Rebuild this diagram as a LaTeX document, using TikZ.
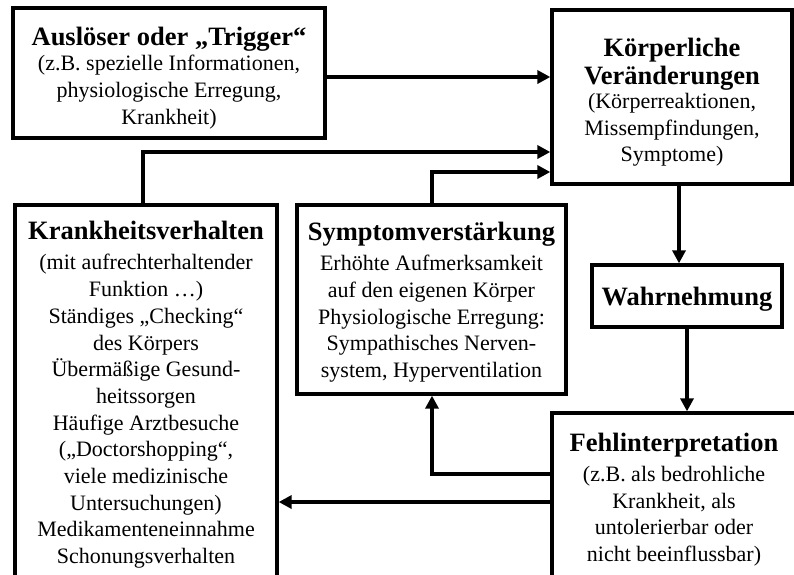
\documentclass[tikz,border=0pt]{standalone}
\usepackage{fontspec}
\setmainfont{Liberation Serif}
\usetikzlibrary{arrows.meta}
\newcommand\boxtitle[1]{{\fontsize{26.5}{26.7}\selectfont\bfseries #1}}
\newcommand\lift[1]{\rule{0pt}{#1}}
\begin{document}
\begin{tikzpicture}[x=1pt,y=-1pt,
  box/.style={draw, line width=3.3pt, rectangle, align=center, inner sep=0pt,
    font=\fontsize{22}{26.7}\selectfont},
  flow/.style={line width=3.3pt, -{Triangle[length=13pt,width=13pt]}}]
\useasboundingbox (0,0) rectangle (794,574);
\fill[white] (0,0) rectangle (794,574);

% boxes
\node[box, minimum width=312pt, minimum height=130pt] (trigger) at (169,73)
  {\lift{29pt}\boxtitle{Auslöser oder „Trigger“}\\[-1.7pt]
   (z.B. spezielle Informationen,\\ physiologische Erregung,\\ Krankheit)};
\node[box, minimum width=240pt, minimum height=174pt] (koerp) at (672,97)
  {\lift{29pt}\boxtitle{Körperliche}\\[1.3pt]\boxtitle{Veränderungen}\\[-2.7pt]
   (Körperreaktionen,\\ Missempfindungen,\\ Symptome)};
\node[box, minimum width=190pt, minimum height=62pt] (wahr) at (687,296)
  {\lift{24pt}\boxtitle{Wahrnehmung}};
\node[box, minimum width=244pt, minimum height=173pt] (fehl) at (674,499.5)
  {\boxtitle{Fehlinterpretation}\\[3.3pt]
   (z.B. als bedrohliche\\ Krankheit, als\\ untolerierbar oder\\ nicht beeinflussbar)};
\node[box, minimum width=269pt, minimum height=189pt] (symp) at (431.5,299.5)
  {\lift{24pt}\boxtitle{Symptomverstärkung}\\[3.3pt]
   Erhöhte Aufmerksamkeit\\ auf den eigenen Körper\\ Physiologische Erregung:\\
   Sympathisches Nerven-\\ system, Hyperventilation};
\node[box, minimum width=262pt, minimum height=380pt] (krank) at (146,395)
  {\boxtitle{Krankheitsverhalten}\\[3.3pt]
   (mit aufrechterhaltender\\ Funktion …)\\ Ständiges „Checking“\\ des Körpers\\
   Übermäßige Gesund-\\ heitssorgen\\ Häufige Arztbesuche\\ („Doctorshopping“,\\
   viele medizinische\\ Untersuchungen)\\ Medikamenteneinnahme\\ Schonungsverhalten};

% routing points of the connectors
\coordinate (ty) at (0,77);
\coordinate (kv) at (143,152);
\coordinate (sv) at (432,172);
\coordinate (wx) at (679,0);
\coordinate (fs) at (432,474);
\coordinate (fk) at (0,502);

% connectors
\draw[flow] (trigger.east |- ty) -- (koerp.west |- ty);
\draw[flow] (krank.north -| kv) -- (kv) -- (koerp.west |- kv);
\draw[flow] (symp.north -| sv) -- (sv) -- (koerp.west |- sv);
\draw[flow] (koerp.south -| wx) -- (wahr.north -| wx);
\draw[flow] (wahr.south) -- (wahr.south |- fehl.north);
\draw[flow] (fehl.west |- fs) -- (fs) -- (symp.south -| fs);
\draw[flow] (fehl.west |- fk) -- (krank.east |- fk);
\end{tikzpicture}
\end{document}
